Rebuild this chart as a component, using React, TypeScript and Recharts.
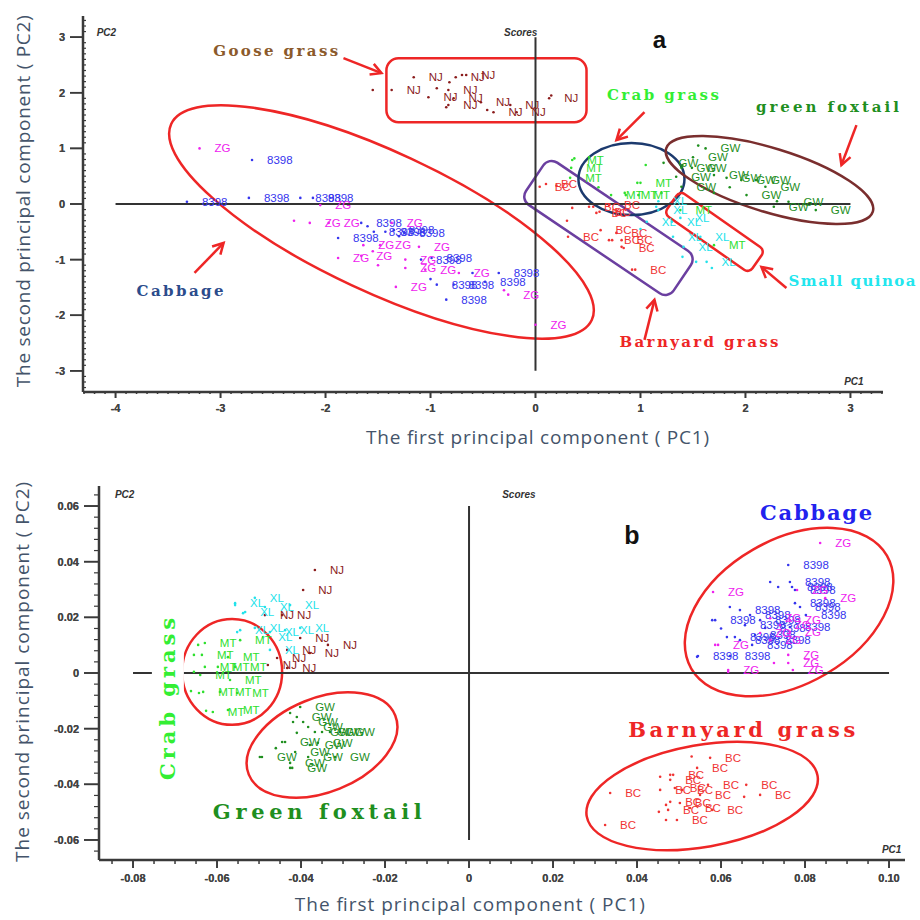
import React from "react";
import {
  ScatterChart,
  Scatter,
  XAxis,
  YAxis,
  ReferenceLine,
  ReferenceArea,
  ReferenceDot,
} from "recharts";

type Pt = [number, number];

// ---------- panel a : tick labels ----------
const aXTicks = [-4, -3, -2, -1, 0, 1, 2, 3];
const aYTicks = [-3, -2, -1, 0, 1, 2, 3];

// ---------- panel a : scores (labelled points, then bare dots) ----------
const aNJ: Pt[] = [
  [-1.37, 2.05], [-1.16, 2.28], [-1.02, 1.92], [-0.83, 2.05], [-0.83, 1.78], [-0.78, 1.9], [-0.76, 2.28],
  [-0.66, 2.32], [-0.52, 1.83], [-0.4, 1.65], [-0.24, 1.78], [-0.18, 1.65], [0.13, 1.9],
];
const aNJDots: Pt[] = [[-0.94, 2.08], [-0.7, 2.32], [-0.85, 1.74], [-0.46, 1.69], [-0.82, 2.19], [-1.55, 2.05], [0.15, 1.95]];

const aZG: Pt[] = [
  [-3.2, 1.0], [-2.05, -0.02], [-2.15, -0.34], [-1.97, -0.34], [-1.37, -0.34], [-1.64, -0.74], [-1.48, -0.74],
  [-1.11, -0.77], [-1.88, -0.97], [-1.66, -0.93], [-1.24, -1.0], [-1.24, -1.15], [-1.05, -1.18], [-0.73, -1.24],
  [-1.33, -1.49], [-0.26, -1.63], [0.0, -2.17],
];
const aZGDots: Pt[] = [[-2.3, -0.3], [-1.55, -0.85], [-0.3, -1.55], [-1.5, -1.1]];

const a8398: Pt[] = [
  [-2.7, 0.79], [-3.32, 0.04], [-2.73, 0.11], [-2.24, 0.11], [-2.12, 0.11], [-1.66, -0.34], [-1.54, -0.5],
  [-1.43, -0.5], [-1.35, -0.47], [-1.25, -0.52], [-1.88, -0.61], [-1.09, -1.0], [-0.99, -0.97], [-0.94, -1.45],
  [-0.78, -1.45], [-0.35, -1.24], [-0.48, -1.4], [-0.85, -1.72],
];
const a8398Dots: Pt[] = [[-1.6, -0.4], [-1.3, -0.58], [-0.6, -1.24], [-1.0, -1.35]];

const aBC: Pt[] = [
  [0.04, 0.31], [0.1, 0.36], [0.51, -0.05], [0.61, -0.14], [0.7, -0.02], [0.31, -0.59], [0.62, -0.47],
  [0.7, -0.65], [0.82, -0.65], [0.84, -0.79], [0.95, -1.18], [0.77, -0.52], [0.58, -0.16],
];
const aBCDots: Pt[] = [[0.35, -0.07], [0.73, -0.65], [0.82, -0.77], [0.92, -1.18], [0.55, -0.05], [0.2, 0.33], [0.3, -0.3]];

const aMT: Pt[] = [
  [0.35, 0.79], [0.34, 0.65], [0.33, 0.47], [1.0, 0.38], [0.72, 0.16], [0.86, 0.16], [0.98, 0.16], [1.38, -0.11], [1.7, -0.74],
];
const aMTDots: Pt[] = [[0.37, 0.82], [0.97, 0.38], [0.85, 0.2], [1.05, 0.7], [0.6, 0.3], [1.2, 0.2]];

const aGW: Pt[] = [
  [1.62, 1.0], [1.5, 0.84], [1.22, 0.74], [1.39, 0.65], [1.49, 0.65], [1.34, 0.49], [1.7, 0.52], [1.82, 0.47],
  [1.96, 0.43], [2.1, 0.43], [2.19, 0.31], [1.39, 0.31], [2.01, 0.16], [2.27, -0.05], [2.41, 0.04], [2.67, -0.11],
];
const aGWDots: Pt[] = [[1.55, 1.05], [1.7, 0.2], [1.4, 0.7], [2.3, 0.05], [1.85, 0.3]];

const aXL: Pt[] = [
  [1.17, 0.05], [1.17, -0.11], [1.3, -0.32], [1.38, -0.25], [1.31, -0.59], [1.57, -0.59], [1.41, -0.77], [1.63, -1.04], [1.06, -0.32],
];
const aXLDots: Pt[] = [[1.15, -0.05], [1.4, -0.95], [1.53, -1.04], [1.68, -1.15], [1.0, -0.45]];

// ---------- panel b : tick labels ----------
const bXTicks = [-0.08, -0.06, -0.04, -0.02, 0, 0.02, 0.04, 0.06, 0.08, 0.1];
const bYTicks = [-0.06, -0.04, -0.02, 0, 0.02, 0.04, 0.06];

// ---------- panel b : scores ----------
const bNJ: Pt[] = [
  [-0.0367, 0.037], [-0.0395, 0.0298], [-0.0486, 0.0208], [-0.0445, 0.0208], [-0.0402, 0.0126], [-0.0336, 0.0101],
  [-0.0379, 0.0072], [-0.0433, 0.0083], [-0.0457, 0.0054], [-0.0433, 0.0018], [-0.0479, 0.0029],
];
const bXL: Pt[] = [
  [-0.051, 0.027], [-0.0557, 0.0251], [-0.0426, 0.0244], [-0.0486, 0.0237], [-0.0533, 0.0219], [-0.0545, 0.0154],
  [-0.051, 0.0162], [-0.0474, 0.0147], [-0.0438, 0.0154], [-0.0402, 0.0162], [-0.049, 0.0129], [-0.0474, 0.0083],
];
const bXLDots: Pt[] = [[-0.0557, 0.0244], [-0.0538, 0.0215], [-0.0552, 0.0147]];
const bMT: Pt[] = [
  [-0.0629, 0.0108], [-0.0636, 0.0065], [-0.0545, 0.0118], [-0.0574, 0.0057], [-0.0629, 0.0022], [-0.0598, 0.0022],
  [-0.0557, 0.0022], [-0.064, -0.0007], [-0.0569, -0.0025], [-0.0633, -0.0068], [-0.0593, -0.0068], [-0.0552, -0.0072],
  [-0.061, -0.014], [-0.0574, -0.0133],
];
const bMTDots: Pt[] = [[-0.0645, 0.0101], [-0.0655, 0.0065], [-0.0655, 0.0004], [-0.0662, -0.0065], [-0.0643, -0.0072], [-0.0626, -0.0136]];
const bGW: Pt[] = [
  [-0.0402, -0.0122], [-0.041, -0.0158], [-0.0395, -0.0176], [-0.0383, -0.0194], [-0.0367, -0.0212], [-0.035, -0.0212],
  [-0.0331, -0.0212], [-0.0307, -0.0212], [-0.0438, -0.0248], [-0.0379, -0.0259], [-0.036, -0.0251], [-0.0493, -0.0302],
  [-0.0383, -0.0302], [-0.0319, -0.0302], [-0.0426, -0.0323], [-0.0421, -0.0341], [-0.0414, -0.0284],
];
const bGWDots: Pt[] = [[-0.0426, -0.0144], [-0.0419, -0.0176], [-0.0445, -0.0248], [-0.0498, -0.0302], [-0.0426, -0.0341], [-0.041, -0.0215], [-0.046, -0.027]];
const bZG: Pt[] = [
  [0.0836, 0.0467], [0.0581, 0.0291], [0.0781, 0.0298], [0.0848, 0.0269], [0.0717, 0.0197], [0.074, 0.0172],
  [0.0764, 0.0147], [0.0717, 0.0118], [0.0764, 0.019], [0.0593, 0.0101], [0.076, 0.0065], [0.076, 0.0036],
  [0.0771, 0.0011], [0.0617, 0.0011], [0.0693, 0.0144],
];
const bZGDots: Pt[] = [[0.0586, 0.0101], [0.0617, 0.0004], [0.0726, 0.0036]];
const b8398: Pt[] = [
  [0.076, 0.0388], [0.0764, 0.0327], [0.0769, 0.0309], [0.0776, 0.0298], [0.0776, 0.0251], [0.0788, 0.0237],
  [0.0802, 0.0208], [0.0645, 0.0226], [0.0669, 0.0208], [0.0693, 0.019], [0.0657, 0.0172], [0.0705, 0.0162],
  [0.0681, 0.0136], [0.0645, 0.0118], [0.0717, 0.0118], [0.0586, 0.019], [0.0633, 0.0129], [0.0674, 0.0101],
  [0.0545, 0.0061], [0.0621, 0.0061], [0.0764, 0.0165],
];
const b8398Dots: Pt[] = [[0.0543, 0.0058], [0.0579, 0.019], [0.0614, 0.0129], [0.0717, 0.0327], [0.0621, 0.0237], [0.0736, 0.0309], [0.06, 0.016]];
const bBC: Pt[] = [
  [0.0574, -0.0305], [0.0543, -0.0341], [0.0486, -0.0366], [0.0479, -0.0384], [0.0336, -0.0431], [0.0455, -0.042],
  [0.049, -0.0413], [0.0507, -0.042], [0.0569, -0.0402], [0.066, -0.0402], [0.0693, -0.0438], [0.055, -0.0438],
  [0.0479, -0.0463], [0.0502, -0.0467], [0.0526, -0.0485], [0.0579, -0.0492], [0.0474, -0.0492], [0.0495, -0.0528],
  [0.0324, -0.0546],
];
const bBCDots: Pt[] = [[0.0455, -0.0373], [0.0479, -0.0366], [0.0452, -0.0499], [0.0469, -0.0528], [0.0655, -0.0445], [0.0469, -0.0474], [0.053, -0.03]];

// ---------- colours ----------
const C_NJ = "#8b1c1c";
const C_ZG = "#ee22ee";
const C_8398 = "#3636ee";
const C_BC = "#f03333";
const C_MT = "#2ee02e";
const C_GW = "#1f8f1f";
const C_XL = "#22e2ea";
const RED = "#ee2626";
const AXIS_C = "#3a3a3a";

const FONT = "'Liberation Sans', Arial, sans-serif";
const ANNO_FONT = "'DejaVu Serif', 'Liberation Serif', serif";
const TITLE_FONT = "'Open Sans', 'Noto Sans', sans-serif";

const toData = (pts: Pt[], dots: Pt[] = []) => [
  ...pts.map(([x, y]) => ({ x, y, tag: true })),
  ...dots.map(([x, y]) => ({ x, y, tag: false })),
];

const pointShape = (label: string, color: string) => (p: any) => (
  <g>
    <circle cx={p.cx} cy={p.cy} r={1.3} fill={color} />
    {p.payload?.tag && (
      <text x={p.cx + 15} y={p.cy} dy="0.35em" fontSize={11.5} fontFamily={FONT} fill={color}>
        {label}
      </text>
    )}
  </g>
);

const range = (from: number, to: number, step: number) => {
  const out: number[] = [];
  const n = Math.round((to - from) / step);
  for (let i = 0; i <= n; i++) out.push(Math.round((from + i * step) * 1e6) / 1e6);
  return out;
};
const isIn = (list: number[], v: number) => list.some((m) => Math.abs(m - v) < 1e-9);

const yTick = (majors: number[], fmt: (v: number) => string, len: number, minorLen: number, minorDir: number) => (p: any) => {
  const v = Number(p.payload.value);
  if (!isIn(majors, v))
    return <line x1={p.x} x2={p.x + minorDir * minorLen} y1={p.y} y2={p.y} stroke={AXIS_C} strokeWidth={1.2} />;
  return (
    <g>
      <line x1={p.x - len} x2={p.x} y1={p.y} y2={p.y} stroke={AXIS_C} strokeWidth={1.6} />
      <text x={p.x - len - 5} y={p.y} dy="0.36em" textAnchor="end" fontSize={11} fontWeight="bold" fontFamily={FONT} fill="#444">
        {fmt(v)}
      </text>
    </g>
  );
};

const xTick = (majors: number[], fmt: (v: number) => string, len: number, minorLen: number, gap: number) => (p: any) => {
  const v = Number(p.payload.value);
  if (!isIn(majors, v))
    return <line x1={p.x} x2={p.x} y1={p.y} y2={p.y + minorLen} stroke={AXIS_C} strokeWidth={1.5} />;
  return (
    <g>
      <line x1={p.x} x2={p.x} y1={p.y} y2={p.y + len} stroke={AXIS_C} strokeWidth={1.6} />
      <text x={p.x} y={p.y + gap} dy="0.36em" textAnchor="middle" fontSize={11} fontWeight="bold" fontFamily={FONT} fill="#444">
        {fmt(v)}
      </text>
    </g>
  );
};

const ellipseShape = (rot: number, color: string, w = 2.5) => (p: any) => {
  const cx = p.x + p.width / 2;
  const cy = p.y + p.height / 2;
  return (
    <ellipse cx={cx} cy={cy} rx={Math.abs(p.width) / 2} ry={Math.abs(p.height) / 2}
      transform={`rotate(${rot} ${cx} ${cy})`} fill="none" stroke={color} strokeWidth={w} />
  );
};

const boxShape = (rot: number, color: string, r: number, w = 2.5) => (p: any) => {
  const cx = p.x + p.width / 2;
  const cy = p.y + p.height / 2;
  return (
    <rect x={p.x} y={p.y} width={Math.abs(p.width)} height={Math.abs(p.height)} rx={r} ry={r}
      transform={`rotate(${rot} ${cx} ${cy})`} fill="none" stroke={color} strokeWidth={w} />
  );
};

const arrowShape = (color: string) => (p: any) => {
  const { x1, y1, x2, y2 } = p;
  const a = Math.atan2(y2 - y1, x2 - x1);
  const L = 12;
  const s = 0.5;
  const pts = `${x2 - L * Math.cos(a - s)},${y2 - L * Math.sin(a - s)} ${x2},${y2} ${x2 - L * Math.cos(a + s)},${y2 - L * Math.sin(a + s)}`;
  return (
    <g>
      <line x1={x1} y1={y1} x2={x2} y2={y2} stroke={color} strokeWidth={2.5} />
      <polyline points={pts} fill="none" stroke={color} strokeWidth={2.5} />
    </g>
  );
};

const textShape = (txt: string, o: any) => (p: any) => {
  const rot = o.rot ? `rotate(${o.rot} ${p.cx} ${p.cy})` : undefined;
  return (
    <g transform={rot}>
      {o.bg && <rect x={p.cx - o.len / 2 - 8} y={p.cy - 16} width={o.len + 16} height={32} fill="#fff" />}
      <text x={p.cx} y={p.cy} dy="0.35em" textAnchor={o.anchor || "start"} fontSize={o.size} fontFamily={o.font || ANNO_FONT}
        fontWeight={o.weight || "bold"} fontStyle={o.italic ? "italic" : "normal"} fill={o.color}
        textLength={o.len} lengthAdjust={o.len ? "spacing" : undefined}>
        {txt}
      </text>
    </g>
  );
};

const Txt = (x: number, y: number, txt: string, o: any) => (
  <ReferenceDot key={txt + x} x={x} y={y} ifOverflow="visible" shape={textShape(txt, o)} />
);
const Ell = (cx: number, cy: number, hx: number, hy: number, rot: number, color: string) => (
  <ReferenceArea key={`e${cx}${cy}`} x1={cx - hx} x2={cx + hx} y1={cy - hy} y2={cy + hy} ifOverflow="visible" shape={ellipseShape(rot, color)} />
);
const Box = (cx: number, cy: number, hx: number, hy: number, rot: number, color: string, r: number) => (
  <ReferenceArea key={`b${cx}${cy}`} x1={cx - hx} x2={cx + hx} y1={cy - hy} y2={cy + hy} ifOverflow="visible" shape={boxShape(rot, color, r)} />
);
const Arrow = (x1: number, y1: number, x2: number, y2: number) => (
  <ReferenceLine key={`a${x1}${y1}`} segment={[{ x: x1, y: y1 }, { x: x2, y: y2 }]} ifOverflow="visible" shape={arrowShape(RED)} />
);

const aSeries = [
  { label: "NJ", color: C_NJ, data: toData(aNJ, aNJDots) },
  { label: "8398", color: C_8398, data: toData(a8398, a8398Dots) },
  { label: "ZG", color: C_ZG, data: toData(aZG, aZGDots) },
  { label: "BC", color: C_BC, data: toData(aBC, aBCDots) },
  { label: "MT", color: C_MT, data: toData(aMT, aMTDots) },
  { label: "GW", color: C_GW, data: toData(aGW, aGWDots) },
  { label: "XL", color: C_XL, data: toData(aXL, aXLDots) },
];

const bSeries = [
  { label: "NJ", color: C_NJ, data: toData(bNJ) },
  { label: "XL", color: C_XL, data: toData(bXL, bXLDots) },
  { label: "MT", color: C_MT, data: toData(bMT, bMTDots) },
  { label: "GW", color: C_GW, data: toData(bGW, bGWDots) },
  { label: "8398", color: C_8398, data: toData(b8398, b8398Dots) },
  { label: "ZG", color: C_ZG, data: toData(bZG, bZGDots) },
  { label: "BC", color: C_BC, data: toData(bBC, bBCDots) },
];

const fmtA = (v: number) => String(v);
const fmtB = (v: number) => (v === 0 ? "0" : v.toFixed(2));

function PanelA() {
  return (
    <ScatterChart width={920} height={460} margin={{ top: 16, right: 37, bottom: 0, left: 0 }}>
      <XAxis type="number" dataKey="x" domain={[-4.31, 3.31]} ticks={[...aXTicks, ...range(-4.3, 3.3, 0.1)]}
        interval={0} height={68} tickSize={0} tickMargin={0} tickLine={false}
        axisLine={{ stroke: AXIS_C, strokeWidth: 2.5 }} tick={xTick(aXTicks, fmtA, 6, 2, 16)} />
      <YAxis type="number" dataKey="y" domain={[-3.38, 3.38]} ticks={[...aYTicks, ...range(-3.3, 3.3, 0.1)]}
        interval={0} width={83} tickSize={0} tickMargin={0} tickLine={false}
        axisLine={{ stroke: AXIS_C, strokeWidth: 2.5 }} tick={yTick(aYTicks, fmtA, 13, 3, 1)} />
      <ReferenceLine segment={[{ x: -4, y: 0 }, { x: 3, y: 0 }]} stroke="#333" strokeWidth={2} ifOverflow="visible" />
      <ReferenceLine segment={[{ x: 0, y: -3 }, { x: 0, y: 3 }]} stroke="#333" strokeWidth={2} ifOverflow="visible" />
      {aSeries.map((s) => (
        <Scatter key={s.label} data={s.data} shape={pointShape(s.label, s.color)} isAnimationActive={false} />
      ))}
      {Box(-0.467, 2.045, 0.953, 0.575, 0, RED, 12)}
      {Ell(-1.467, -0.323, 2.21, 1.257, 25, RED)}
      {Box(0.695, -0.431, 0.848, 0.458, 34, "#6b3fa0", 10)}
      {Ell(0.914, 0.449, 0.505, 0.647, 0, "#1c3a6e")}
      {Ell(2.229, 0.431, 1.029, 0.575, 17, "#7a2e2e")}
      {Box(1.705, -0.503, 0.495, 0.251, 35, RED, 6)}
      {Arrow(-1.829, 2.623, -1.467, 2.353)}
      {Arrow(1.038, 1.653, 0.771, 1.15)}
      {Arrow(3.057, 1.419, 2.914, 0.701)}
      {Arrow(2.39, -1.509, 2.152, -1.132)}
      {Arrow(1.038, -2.443, 1.133, -1.724)}
      {Arrow(-3.248, -1.239, -2.971, -0.701)}
      {Txt(-3.07, 2.75, "Goose grass", { size: 15, color: "#8b5a2b", len: 125 })}
      {Txt(0.68, 1.96, "Crab grass", { size: 15, color: "#33ee33", len: 112 })}
      {Txt(2.1, 1.74, "green foxtail", { size: 15, color: C_GW, len: 143 })}
      {Txt(2.41, -1.38, "Small quinoa", { size: 15, color: "#22e6ee", len: 127 })}
      {Txt(0.8, -2.48, "Barnyard grass", { size: 15, color: RED, len: 159 })}
      {Txt(-3.8, -1.56, "Cabbage", { size: 15, color: "#2b4c8c", len: 87 })}
      {Txt(1.18, 2.95, "a", { size: 24, color: "#111", font: FONT, anchor: "middle" })}
      {Txt(-4.18, 3.09, "PC2", { size: 10, color: "#333", font: FONT, italic: true })}
      {Txt(-0.3, 3.09, "Scores", { size: 10, color: "#333", font: FONT, italic: true })}
      {Txt(2.94, -3.2, "PC1", { size: 10, color: "#333", font: FONT, italic: true })}
      {Txt(0.02, -4.19, "The first principal component ( PC1)", { size: 19, color: "#44546a", font: TITLE_FONT, weight: "normal", anchor: "middle", len: 343 })}
      {Txt(-4.876, 0.05, "The second principal component ( PC2)", { size: 19, color: "#44546a", font: TITLE_FONT, weight: "normal", anchor: "middle", len: 372, rot: -90 })}
    </ScatterChart>
  );
}

function PanelB() {
  return (
    <ScatterChart width={920} height={460} margin={{ top: 26, right: 15, bottom: 0, left: 0 }}>
      <XAxis type="number" dataKey="x" domain={[-0.0881, 0.1038]} ticks={[...bXTicks, ...range(-0.085, 0.1, 0.005)]}
        interval={0} height={60} tickSize={0} tickMargin={0} tickLine={false}
        axisLine={{ stroke: AXIS_C, strokeWidth: 2.5 }} tick={xTick(bXTicks, fmtB, 8, 4, 18)} />
      <YAxis type="number" dataKey="y" domain={[-0.0672, 0.0672]} ticks={[...bYTicks, ...range(-0.064, 0.064, 0.004)]}
        interval={0} width={99} tickSize={0} tickMargin={0} tickLine={false}
        axisLine={{ stroke: AXIS_C, strokeWidth: 2.5 }} tick={yTick(bYTicks, fmtB, 15, -5, 1)} />
      <ReferenceLine segment={[{ x: -0.08, y: 0 }, { x: 0.1, y: 0 }]} stroke="#333" strokeWidth={2} ifOverflow="visible" />
      <ReferenceLine segment={[{ x: 0, y: -0.06 }, { x: 0, y: 0.06 }]} stroke="#333" strokeWidth={2} ifOverflow="visible" />
      {bSeries.map((s) => (
        <Scatter key={s.label} data={s.data} shape={pointShape(s.label, s.color)} isAnimationActive={false} />
      ))}
      {Ell(0.0762, 0.0219, 0.0269, 0.0259, -30, RED)}
      {Ell(0.0555, -0.0442, 0.0279, 0.0183, -10, RED)}
      {Ell(-0.0564, 0.0004, 0.0119, 0.019, 0, RED)}
      {Ell(-0.035, -0.0259, 0.0188, 0.0169, -22, RED)}
      {Txt(-0.0717, -0.0093, "Crab grass", { size: 21, color: "#33ee33", len: 162, rot: -90, anchor: "middle", bg: true })}
      {Txt(0.0693, 0.0578, "Cabbage", { size: 21, color: "#2222ee", len: 112 })}
      {Txt(0.0379, -0.0205, "Barnyard grass", { size: 21, color: RED, len: 227 })}
      {Txt(-0.061, -0.0499, "Green foxtail", { size: 21, color: C_GW, len: 209 })}
      {Txt(0.0388, 0.0496, "b", { size: 25, color: "#111", font: FONT, anchor: "middle" })}
      {Txt(-0.0843, 0.0643, "PC2", { size: 10, color: "#333", font: FONT, italic: true })}
      {Txt(0.0079, 0.0643, "Scores", { size: 10, color: "#333", font: FONT, italic: true })}
      {Txt(0.0983, -0.0636, "PC1", { size: 10, color: "#333", font: FONT, italic: true })}
      {Txt(0.0002, -0.0833, "The first principal component ( PC1)", { size: 19, color: "#44546a", font: TITLE_FONT, weight: "normal", anchor: "middle", len: 350 })}
      {Txt(-0.1064, 0.0004, "The second principal component ( PC2)", { size: 19, color: "#44546a", font: TITLE_FONT, weight: "normal", anchor: "middle", len: 380, rot: -90 })}
    </ScatterChart>
  );
}

export default function App() {
  return (
    <div style={{ position: "absolute", left: 0, top: 0, width: 920, height: 920, background: "#fff" }}>
      <PanelA />
      <PanelB />
    </div>
  );
}
